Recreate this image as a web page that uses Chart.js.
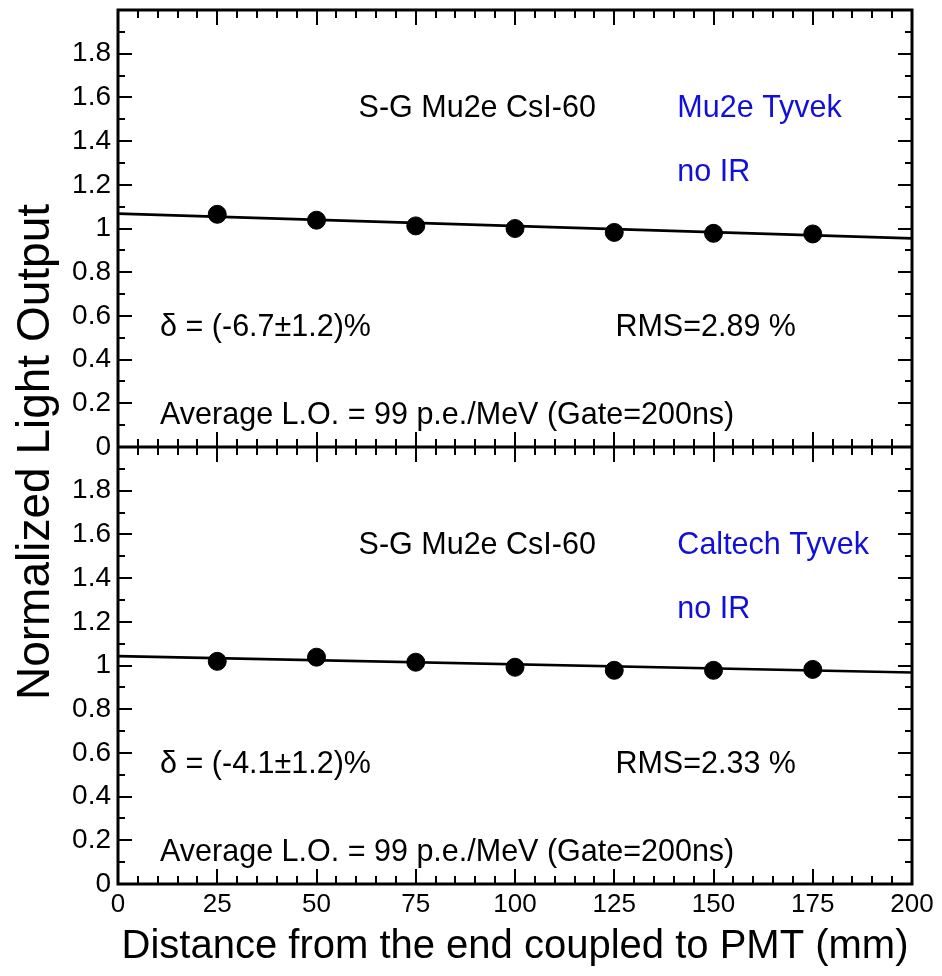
<!DOCTYPE html>
<html>
<head>
<meta charset="utf-8">
<script src="https://cdn.jsdelivr.net/npm/chart.js@4.4.1/dist/chart.umd.min.js"></script>
<style>
  html, body { margin: 0; padding: 0; background: #fff; }
  #wrap { position: relative; width: 942px; height: 976px; }
</style>
</head>
<body>
<div id="wrap"><canvas id="c" width="942" height="976"></canvas></div>
<script>
// ---- data ----
const distances = [25, 50, 75, 100, 125, 150, 175];
const loMu2eTyvek = [1.065, 1.038, 1.012, 1.000, 0.982, 0.978, 0.975];
const loCaltechTyvek = [1.019, 1.038, 1.015, 0.992, 0.978, 0.978, 0.982];
const fitX = [0, 200];
const fitMu2eTyvek = [1.068, 0.955];
const fitCaltechTyvek = [1.043, 0.968];
const xTickStep = 25;
const yTickStep = 0.2;

const topNotes = ['S-G Mu2e CsI-60', 'Mu2e Tyvek', 'no IR', '\u03B4 = (-6.7\u00B11.2)%', 'RMS=2.89 %', 'Average L.O. = 99 p.e./MeV (Gate=200ns)'];
const botNotes = ['S-G Mu2e CsI-60', 'Caltech Tyvek', 'no IR', '\u03B4 = (-4.1\u00B11.2)%', 'RMS=2.33 %', 'Average L.O. = 99 p.e./MeV (Gate=200ns)'];

// ---- layout / style (positions in axis units) ----
const FONT = 'Liberation Sans';
const BLUE = '#1010d8';
const notePlacement = [
  { x: 60.6, y: 1.55, color: '#000' },
  { x: 140.9, y: 1.55, color: BLUE },
  { x: 140.9, y: 1.255, color: BLUE },
  { x: 10.6, y: 0.545, color: '#000' },
  { x: 125.3, y: 0.545, color: '#000' },
  { x: 10.6, y: 0.146, color: '#000' }
];

const pts = (xs, ys) => xs.map((x, i) => ({ x: x, y: ys[i] }));

function fmtY(v) {
  if (v > 1.95) return '';
  const r = Math.round(v * 10) / 10;
  return String(r);
}

const framePlugin = {
  id: 'frame',
  afterDatasetsDraw(chart) {
    const { ctx, chartArea: a, scales } = chart;
    const xs = scales.x, yT = scales.yTop, yB = scales.yBot;
    ctx.save();
    ctx.strokeStyle = '#000';
    ctx.lineCap = 'butt';
    // ticks
    ctx.lineWidth = 2;
    ctx.beginPath();
    const mid = yT.bottom;
    for (let v = 0; v <= 200.001; v += 5) {
      const px = Math.round(xs.getPixelForValue(v));
      const major = Math.abs(v % 25) < 1e-6;
      const L = major ? 15 : 8;
      ctx.moveTo(px, a.top); ctx.lineTo(px, a.top + L);
      ctx.moveTo(px, a.bottom); ctx.lineTo(px, a.bottom - L);
      ctx.moveTo(px, mid - L); ctx.lineTo(px, mid + L);
    }
    [yT, yB].forEach(s => {
      for (let i = 0; i <= 20; i++) {
        const v = i * 0.1;
        const py = Math.round(s.getPixelForValue(v));
        const L = (i % 2 === 0) ? 14 : 7;
        ctx.moveTo(a.left, py); ctx.lineTo(a.left + L, py);
        ctx.moveTo(a.right, py); ctx.lineTo(a.right - L, py);
      }
    });
    ctx.stroke();
    // frame
    ctx.lineWidth = 3;
    ctx.strokeRect(a.left, a.top, a.right - a.left, a.bottom - a.top);
    ctx.beginPath();
    ctx.moveTo(a.left, mid); ctx.lineTo(a.right, mid);
    ctx.stroke();
    // notes
    ctx.font = '30.5px "' + FONT + '"';
    ctx.textBaseline = 'middle';
    ctx.textAlign = 'left';
    [[yT, topNotes], [yB, botNotes]].forEach(([s, notes]) => {
      notes.forEach((t, i) => {
        const p = notePlacement[i];
        ctx.fillStyle = p.color;
        ctx.fillText(t, xs.getPixelForValue(p.x), s.getPixelForValue(p.y));
      });
    });
    // y title
    ctx.fillStyle = '#000';
    ctx.font = '46px "' + FONT + '"';
    ctx.textAlign = 'center';
    ctx.textBaseline = 'alphabetic';
    ctx.translate(49, 452);
    ctx.rotate(-Math.PI / 2);
    ctx.fillText('Normalized Light Output', 0, 0);
    ctx.restore();
  }
};

const yAxis = (stack) => ({
  type: 'linear', min: 0, max: 2, position: 'left', stack: stack, stackWeight: 1,
  grid: { display: false, drawTicks: false }, border: { display: false },
  ticks: { stepSize: yTickStep, autoSkip: false, color: '#000', font: { family: FONT, size: 28 }, padding: 7, callback: fmtY },
  afterFit: s => { s.width = 118; s.paddingTop = 0; s.paddingBottom = 0; }
});

new Chart(document.getElementById('c'), {
  type: 'scatter',
  data: {
    datasets: [
      { type: 'line', data: pts(fitX, fitCaltechTyvek), xAxisID: 'x', yAxisID: 'yBot', borderColor: '#000', borderWidth: 2.6, pointRadius: 0, fill: false },
      { type: 'line', data: pts(fitX, fitMu2eTyvek), xAxisID: 'x', yAxisID: 'yTop', borderColor: '#000', borderWidth: 2.6, pointRadius: 0, fill: false },
      { data: pts(distances, loCaltechTyvek), xAxisID: 'x', yAxisID: 'yBot', backgroundColor: '#000', borderColor: '#000', pointRadius: 9, showLine: false },
      { data: pts(distances, loMu2eTyvek), xAxisID: 'x', yAxisID: 'yTop', backgroundColor: '#000', borderColor: '#000', pointRadius: 9, showLine: false }
    ]
  },
  options: {
    responsive: false, animation: false, devicePixelRatio: 1,
    layout: { padding: { top: 6, right: 30, left: 0, bottom: 0 } },
    plugins: { legend: { display: false }, tooltip: { enabled: false } },
    scales: {
      x: {
        type: 'linear', min: 0, max: 200, position: 'bottom',
        grid: { display: false, drawTicks: false }, border: { display: false },
        ticks: { stepSize: xTickStep, autoSkip: false, color: '#000', font: { family: FONT, size: 26 }, padding: 5, maxRotation: 0 },
        title: { display: true, text: 'Distance from the end coupled to PMT (mm)', color: '#000', font: { family: FONT, size: 40 }, padding: { top: 0, bottom: 5 } },
        afterFit: s => { s.height = 92; }
      },
      yBot: yAxis('panels'),
      yTop: yAxis('panels')
    }
  },
  plugins: [framePlugin]
});
</script>
</body>
</html>
